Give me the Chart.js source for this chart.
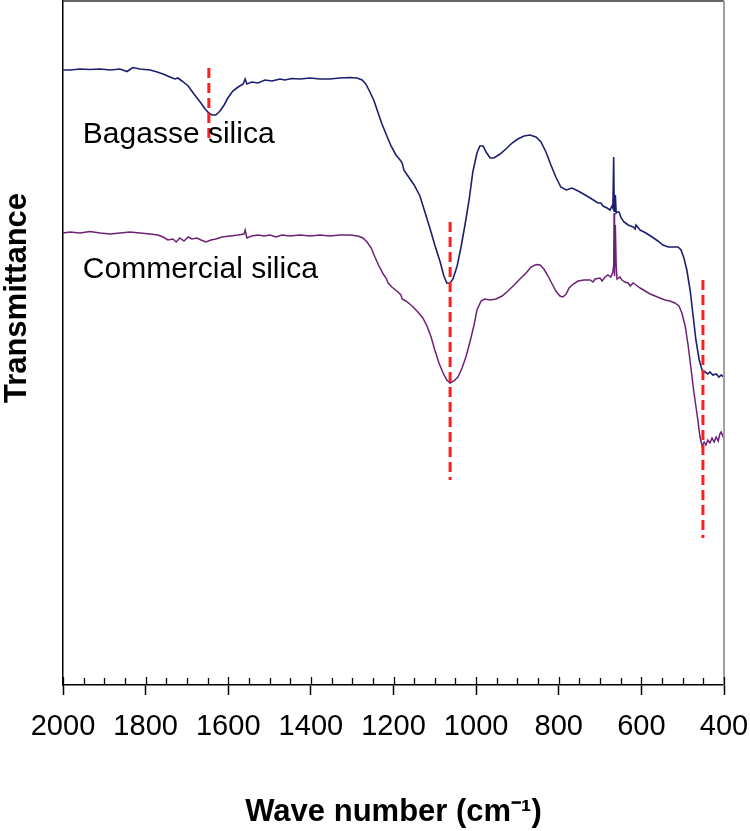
<!DOCTYPE html>
<html>
<head>
<meta charset="utf-8">
<script src="https://cdn.jsdelivr.net/npm/chart.js@4.4.0/dist/chart.umd.min.js"></script>
<style>
  html, body { margin: 0; padding: 0; background: #fff; }
  #wrap { width: 750px; height: 831px; position: relative; }
</style>
</head>
<body>
<div id="wrap"><canvas id="c" width="750" height="831"></canvas></div>
<script>
// ---- Data (wave number in cm-1, transmittance in arbitrary units) ----
const bagasseWn = [2000,1983,1959,1935,1910,1886,1862,1845,1831,1814,1789,1772,1758,1741,1729,1722,1712,1697,1683,1668,1656,1647,1639,1630,1620,1610,1601,1589,1576,1564,1559,1555,1543,1528,1511,1494,1475,1463,1446,1426,1402,1378,1354,1330,1305,1288,1276,1267,1257,1247,1238,1228,1218,1206,1194,1184,1179,1175,1165,1150,1136,1124,1112,1100,1087,1078,1071,1063,1056,1046,1037,1027,1017,1008,998,991,983,976,966,957,942,928,913,899,884,870,855,843,831,819,807,795,782,768,753,736,720,705,698,693,683,676,671,669,667,666,665,663,661,659,654,649,642,632,620,615,613,603,589,574,560,548,535,523,511,504,497,490,482,475,468,460,453,446,439,434,427,419,412,407,400];
const bagasseT  = [615,615,616,615.5,616,615,616,613.5,617.5,616,615,613,611,608,606,607,604,599,591,583,576,572,570,570,574,580,587,594,598,601,606,601,603,602,605,604,606,605,606.5,606,607,606,606,607,607.5,607,605,601,593,584,573,561,551,539,530,525,522,515,509,500,489,473,457,440,423,409,402,402,406,419,437,460,485,513,532,539,539,533,527,527,531,536,542,546,549,550,548,543,533,520,508,498,495,497,494,490,486,482,482,479,477,475,479,477,528,485,473,490,472,473,473,467,463,460,458,456,460,455,452,448,444,440,438,438,438,435,427,415,395,370,345,325,315,313,311,313,310,311,308,310,308];

const commercialWn = [2000,1983,1959,1935,1910,1886,1862,1838,1814,1789,1770,1758,1746,1734,1726,1717,1707,1697,1688,1676,1666,1654,1642,1630,1615,1596,1576,1562,1559,1555,1543,1528,1513,1499,1484,1470,1451,1426,1402,1378,1354,1330,1305,1286,1274,1264,1254,1245,1235,1225,1218,1213,1204,1192,1182,1179,1170,1155,1141,1129,1119,1109,1100,1090,1080,1071,1063,1054,1044,1034,1024,1015,1005,998,988,979,966,952,937,923,908,894,879,867,855,845,836,826,816,807,797,790,782,775,765,753,739,724,717,712,700,695,688,681,674,669,667,666,665,663,661,659,652,647,640,632,627,620,613,603,591,579,567,555,543,531,519,509,502,494,487,480,473,465,458,453,448,444,439,434,429,424,419,414,410,407,402,400];
const commercialT  = [452,453,452,453.5,452,451,452,453,452,451,450,448,445,446,443,447,444,448,446,447,445,443,445,446,448,449,450,451,455,447,449,450,449,450,448,450,449,450,449,450,449,450,450,449,447,443,437,428,419,411,407,402,398,394,390,386,384,379,373,367,359,348,335,322,312,305,302,304,308,317,329,343,360,375,384,386,385,386,389,394,400,406,412,418,420.5,420,416,409,401,394,389,388,391,397,401,404,405,405,403,406,407,404,408,410,408,413,420,472,409,460,420,406,408,405,403,402,399,402,400,397,394,391,389,387,385,384,382,379,372,359,340,317,293,270,248,239,243,240,245,242,247,243,248,244,251,253,248,248];

// Red dashed marker lines: wave number, start and end transmittance
const markerWn    = [1647, 1063, 451];
const markerFrom  = [617, 463, 405];
const markerTo    = [543, 205, 147];

// Curve labels (anchored at wave number / transmittance of text baseline start)
const labelText = ['Bagasse silica', 'Commercial silica'];
const labelWn   = [1952, 1952];
const labelT    = [542, 407];

// Axis
const xMin = 400, xMax = 2000, xMajor = 200, xMinor = 50;
const yMin = 0, yMax = 684;

const toXY = (xs, ys) => xs.map((x, i) => ({ x: x, y: ys[i] }));

const datasets = [
  { data: toXY(bagasseWn, bagasseT), borderColor: '#1c1f6e', borderWidth: 1.6, order: 2 },
  { data: toXY(commercialWn, commercialT), borderColor: '#6c2274', borderWidth: 1.5, order: 2 }
];
markerWn.forEach((w, i) => {
  datasets.push({
    data: [{ x: w, y: markerFrom[i] }, { x: w, y: markerTo[i] }],
    borderColor: '#ff1e1e', borderWidth: 3, borderDash: [10, 5], order: 0
  });
});

const FONT = '"Liberation Sans", Arial, sans-serif';

const decor = {
  id: 'decor',
  afterDraw(chart) {
    const { ctx, chartArea: a, scales: { x, y } } = chart;
    ctx.save();
    // frame top & right
    ctx.strokeStyle = '#333';
    ctx.lineWidth = 1.5;
    ctx.beginPath(); ctx.moveTo(a.left, a.top); ctx.lineTo(a.right, a.top); ctx.stroke();
    ctx.strokeStyle = '#a0a0a0';
    ctx.lineWidth = 2;
    ctx.beginPath(); ctx.moveTo(a.right, a.top); ctx.lineTo(a.right, a.bottom); ctx.stroke();
    // inner tick marks
    ctx.strokeStyle = '#000';
    ctx.lineWidth = 1.3;
    for (let v = xMin; v <= xMax; v += xMinor) {
      const px = Math.round(x.getPixelForValue(v)) + 0.5;
      const len = (v % xMajor === 0) ? 8 : 7;
      ctx.beginPath(); ctx.moveTo(px, a.bottom); ctx.lineTo(px, a.bottom - len); ctx.stroke();
    }
    // curve labels
    ctx.fillStyle = '#000';
    ctx.font = '30px ' + FONT;
    ctx.textAlign = 'left';
    ctx.textBaseline = 'alphabetic';
    labelText.forEach((t, i) => {
      ctx.fillText(t, x.getPixelForValue(labelWn[i]), y.getPixelForValue(labelT[i]));
    });
    // y-axis title
    ctx.font = 'bold 31px ' + FONT;
    ctx.translate(26, 298);
    ctx.rotate(-Math.PI / 2);
    ctx.textAlign = 'center';
    ctx.fillText('Transmittance', 0, 0);
    ctx.restore();
  }
};

new Chart(document.getElementById('c'), {
  type: 'line',
  data: { datasets },
  options: {
    responsive: false,
    animation: false,
    events: [],
    layout: { padding: { top: 1, right: 26, left: 0, bottom: 0 } },
    elements: { point: { radius: 0 }, line: { tension: 0 } },
    plugins: { legend: { display: false }, tooltip: { enabled: false } },
    scales: {
      x: {
        type: 'linear', reverse: true, min: xMin, max: xMax,
        ticks: {
          stepSize: xMinor, autoSkip: false, maxRotation: 0, minRotation: 0,
          padding: 15, color: '#000',
          font: { family: FONT, size: 29 },
          callback: (v) => (v % xMajor === 0 ? String(v) : '')
        },
        grid: {
          display: true, drawOnChartArea: false, drawTicks: true, tickLength: 10,
          tickWidth: 1.5,
          tickColor: (c) => (c.tick && c.tick.value % xMajor === 0 ? '#000' : 'rgba(0,0,0,0)')
        },
        border: { display: true, color: '#000', width: 1.5 },
        title: {
          display: true, text: 'Wave number (cm⁻¹)', color: '#000',
          font: { family: FONT, size: 31, weight: 'bold' },
          padding: { top: 0, bottom: 0 }
        },
        afterFit(s) { s.height = 146; s.paddingLeft = 0; s.paddingRight = 0; }
      },
      y: {
        type: 'linear', min: yMin, max: yMax,
        ticks: { display: false },
        grid: { display: false, drawTicks: false },
        border: { display: true, color: '#000', width: 1.5 },
        afterFit(s) { s.width = 63; }
      }
    }
  },
  plugins: [decor]
});
</script>
</body>
</html>
